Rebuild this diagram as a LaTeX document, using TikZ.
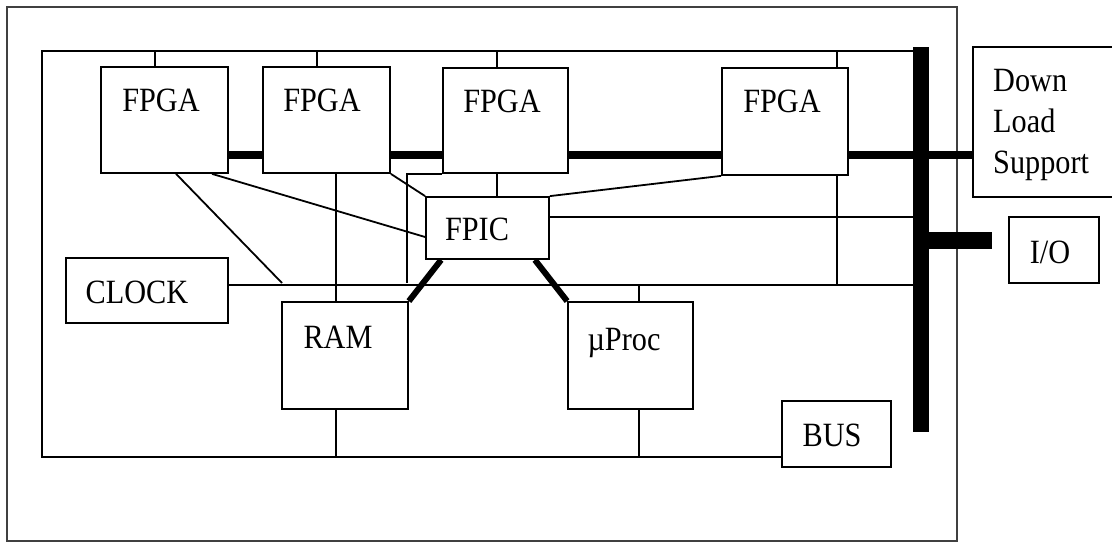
\documentclass[tikz,border=0pt]{standalone}
\usepackage{fontspec}
\setmainfont{Liberation Serif}
\usepackage{graphicx}
\usetikzlibrary{calc}
\newcommand{\sx}[1]{\scalebox{0.89}[1]{#1}}
\begin{document}
\begin{tikzpicture}[x=1pt,y=-1pt,
  thin/.style={line width=1.8pt},
  box/.style={draw, line width=1.8pt, fill=white, inner sep=0pt},
  lbl/.style={font=\fontsize{34}{41}\selectfont, inner sep=0pt, anchor=base},
  lblw/.style={font=\fontsize{34}{41}\selectfont, inner sep=0pt, anchor=base west},
  busline/.style={line width=8pt},
  diag/.style={line width=6pt},
  iostub/.style={line width=17pt}]
\useasboundingbox (0,0) rectangle (1112,543);
% outer frame
\node[draw=black!75, line width=1.5pt, minimum width=950pt, minimum height=534pt, inner sep=0pt] (frame) at (482,274) {};
% boxes
\node[box, minimum width=127pt, minimum height=106pt] (f1) at (164.5,120) {};
\node[box, minimum width=127pt, minimum height=106pt] (f2) at (326.5,120) {};
\node[box, minimum width=125pt, minimum height=105pt] (f3) at (505.5,120.5) {};
\node[box, minimum width=126pt, minimum height=107pt] (f4) at (785,121.5) {};
\node[box, minimum width=123pt, minimum height=62pt] (fpic) at (487.5,228) {};
\node[box, minimum width=162pt, minimum height=65pt] (clock) at (147,290.5) {};
\node[box, minimum width=126pt, minimum height=107pt] (ram) at (345,355.5) {};
\node[box, minimum width=125pt, minimum height=107pt] (uproc) at (630.5,355.5) {};
\node[box, minimum width=109pt, minimum height=66pt] (bus) at (836.5,434) {};
\node[box, minimum width=152pt, minimum height=150pt] (dls) at (1049,122) {};
\node[box, minimum width=90pt, minimum height=66pt] (io) at (1054,250) {};
\node[fill=black, inner sep=0pt, minimum width=16pt, minimum height=385pt] (bar) at (921,239.5) {};
% helper coordinates
\coordinate (itl) at (42,51);
\coordinate (ibl) at (42,457);
\coordinate (ybus) at (0,155);
\coordinate (yclk) at (0,285);
\coordinate (yfr) at (0,217);
\coordinate (s1) at (155,51);
\coordinate (s2) at (317,51);
\coordinate (s3) at (497,51);
\coordinate (s4) at (837,51);
\coordinate (v2) at (336,0);
\coordinate (v3) at (497,0);
\coordinate (v4) at (837,0);
\coordinate (v5) at (639,0);
\coordinate (d1) at (282,283);
\coordinate (v7) at (407,283);
\coordinate (ioend) at (992,240);
% inner board outline
\draw[thin] (bar.west |- itl) -- (itl) -- (ibl) -- (bus.west |- ibl);
% top stubs
\draw[thin] (s1) -- (f1.north -| s1);
\draw[thin] (s2) -- (f2.north -| s2);
\draw[thin] (s3) -- (f3.north -| s3);
\draw[thin] (s4) -- (f4.north -| s4);
% FPGA bus
\draw[busline] (f1.east |- ybus) -- (f2.west |- ybus);
\draw[busline] (f2.east |- ybus) -- (f3.west |- ybus);
\draw[busline] (f3.east |- ybus) -- (f4.west |- ybus);
\draw[busline] (f4.east |- ybus) -- (dls.west |- ybus);
% FPGA to FPIC
\draw[thin] ($(f1.south west)+(112,0)$) -- ($(fpic.west)+(0,9)$);
\draw[thin] (f2.south east) -- (fpic.north west);
\draw[thin] (f3.south -| v3) -- (fpic.north -| v3);
\draw[thin] (f4.south west) -- (fpic.north east);
% other thin lines
\draw[thin] ($(f1.south west)+(76,0)$) -- (d1);
\draw[thin] (f2.south -| v2) -- (ram.north -| v2);
\draw[thin] (ram.south -| v2) -- (ibl -| v2);
\draw[thin] (f3.south west) -- (f3.south west -| v7) -- (v7);
\draw[thin] (f4.south -| v4) -- (yclk -| v4);
\draw[thin] (fpic.east |- yfr) -- (bar.west |- yfr);
\draw[thin] (clock.east |- yclk) -- (bar.west |- yclk);
\draw[thin] (yclk -| v5) -- (uproc.north -| v5);
\draw[thin] (uproc.south -| v5) -- (ibl -| v5);
% thick FPIC links
\draw[diag] ($(fpic.south west)+(16,0)$) -- (ram.north east);
\draw[diag] ($(fpic.south east)+(-15,0)$) -- (uproc.north west);
% I/O stub
\draw[iostub] (bar.east |- ioend) -- (ioend);
% labels
\node[lbl] (t1) at (161,112) {\sx{FPGA}};
\node[lbl] (t2) at (322,112) {\sx{FPGA}};
\node[lbl] (t3) at (502,113) {\sx{FPGA}};
\node[lbl] (t4) at (782,113) {\sx{FPGA}};
\node[lbl] (tfpic) at (477,240) {\sx{FPIC}};
\node[lbl] (tclock) at (137,303) {\sx{CLOCK}};
\node[lbl] (tram) at (338,348) {\sx{RAM}};
\node[lbl] (tuproc) at (624,350) {\sx{µProc}};
\node[lbl] (tbus) at (832,446) {\sx{BUS}};
\node[lbl] (tio) at (1050,263) {\sx{I/O}};
\node[lblw] (td1) at (993,92) {\sx{Down}};
\node[lblw] (td2) at (993,132) {\sx{Load}};
\node[lblw] (td3) at (993,173) {\sx{Support}};
\end{tikzpicture}
\end{document}
